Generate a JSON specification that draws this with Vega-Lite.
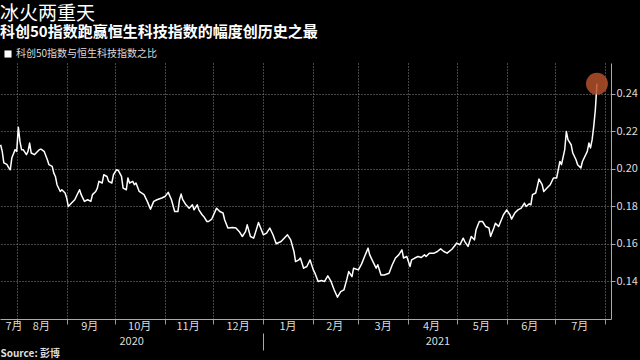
{
  "$schema": "https://vega.github.io/schema/vega-lite/v6.json",
  "width": 611,
  "height": 256,
  "autosize": {"type": "none"},
  "padding": {"left": 0, "top": 63, "right": 29, "bottom": 41},
  "background": "#000000",
  "config": {"view": {"stroke": null}, "font": "Noto Sans CJK SC"},
  "title": {
    "text": "冰火两重天",
    "subtitle": "科创50指数跑赢恒生科技指数的幅度创历史之最",
    "anchor": "start", "frame": "group", "orient": "top", "offset": 9,
    "color": "#ffffff", "fontSize": 19, "fontWeight": "normal", "font": "Noto Sans CJK SC",
    "subtitleColor": "#ffffff", "subtitleFontSize": 15, "subtitleFontWeight": "bold", "subtitleFont": "Noto Sans CJK SC",
    "subtitlePadding": 1
  },
  "resolve": {"axis": {"x": "independent"}},
  "encoding": {
    "y": {
      "field": "ratio", "type": "quantitative",
      "scale": {"domain": [0.12, 0.2565], "nice": false, "zero": false},
      "axis": {
        "orient": "right",
        "values": [0.14, 0.16, 0.18, 0.2, 0.22, 0.24],
        "format": ".2f",
        "grid": true, "gridColor": "#8a8a8a", "gridDash": [1, 2], "gridWidth": 1,
        "tickSize": 4, "tickColor": "#aaaaaa",
        "domainColor": "#aaaaaa",
        "labelColor": "#dddddd", "labelFontSize": 11, "labelPadding": 1,
        "labelOverlap": false, "labelBound": false, "labelFlush": false,
        "title": null
      }
    }
  },
  "layer": [
    {
      "data": {"values": [
        {"date": "2020-07-22", "ratio": 0.2129},
        {"date": "2020-07-23", "ratio": 0.2094},
        {"date": "2020-07-24", "ratio": 0.2033},
        {"date": "2020-07-25", "ratio": 0.2028},
        {"date": "2020-07-26", "ratio": 0.2023},
        {"date": "2020-07-27", "ratio": 0.2007},
        {"date": "2020-07-28", "ratio": 0.1996},
        {"date": "2020-07-29", "ratio": 0.2060},
        {"date": "2020-07-30", "ratio": 0.2081},
        {"date": "2020-07-31", "ratio": 0.2103},
        {"date": "2020-08-01", "ratio": 0.2094},
        {"date": "2020-08-02", "ratio": 0.2223},
        {"date": "2020-08-03", "ratio": 0.2147},
        {"date": "2020-08-04", "ratio": 0.2103},
        {"date": "2020-08-05", "ratio": 0.2103},
        {"date": "2020-08-07", "ratio": 0.2076},
        {"date": "2020-08-08", "ratio": 0.2094},
        {"date": "2020-08-09", "ratio": 0.2138},
        {"date": "2020-08-10", "ratio": 0.2085},
        {"date": "2020-08-12", "ratio": 0.2076},
        {"date": "2020-08-13", "ratio": 0.2085},
        {"date": "2020-08-15", "ratio": 0.2103},
        {"date": "2020-08-16", "ratio": 0.2106},
        {"date": "2020-08-18", "ratio": 0.2094},
        {"date": "2020-08-20", "ratio": 0.2049},
        {"date": "2020-08-21", "ratio": 0.2023},
        {"date": "2020-08-23", "ratio": 0.2014},
        {"date": "2020-08-24", "ratio": 0.1978},
        {"date": "2020-08-25", "ratio": 0.1960},
        {"date": "2020-08-26", "ratio": 0.1916},
        {"date": "2020-08-28", "ratio": 0.1880},
        {"date": "2020-08-29", "ratio": 0.1889},
        {"date": "2020-08-31", "ratio": 0.1872},
        {"date": "2020-09-01", "ratio": 0.1845},
        {"date": "2020-09-02", "ratio": 0.1800},
        {"date": "2020-09-04", "ratio": 0.1818},
        {"date": "2020-09-06", "ratio": 0.1836},
        {"date": "2020-09-08", "ratio": 0.1872},
        {"date": "2020-09-09", "ratio": 0.1889},
        {"date": "2020-09-10", "ratio": 0.1863},
        {"date": "2020-09-12", "ratio": 0.1827},
        {"date": "2020-09-14", "ratio": 0.1836},
        {"date": "2020-09-16", "ratio": 0.1827},
        {"date": "2020-09-17", "ratio": 0.1863},
        {"date": "2020-09-19", "ratio": 0.1880},
        {"date": "2020-09-20", "ratio": 0.1898},
        {"date": "2020-09-21", "ratio": 0.1934},
        {"date": "2020-09-23", "ratio": 0.1925},
        {"date": "2020-09-24", "ratio": 0.1969},
        {"date": "2020-09-26", "ratio": 0.1960},
        {"date": "2020-09-27", "ratio": 0.1934},
        {"date": "2020-09-29", "ratio": 0.1925},
        {"date": "2020-09-30", "ratio": 0.1969},
        {"date": "2020-10-02", "ratio": 0.1996},
        {"date": "2020-10-03", "ratio": 0.1992},
        {"date": "2020-10-05", "ratio": 0.1960},
        {"date": "2020-10-06", "ratio": 0.1898},
        {"date": "2020-10-08", "ratio": 0.1889},
        {"date": "2020-10-09", "ratio": 0.1952},
        {"date": "2020-10-10", "ratio": 0.1925},
        {"date": "2020-10-12", "ratio": 0.1934},
        {"date": "2020-10-13", "ratio": 0.1916},
        {"date": "2020-10-14", "ratio": 0.1925},
        {"date": "2020-10-16", "ratio": 0.1880},
        {"date": "2020-10-19", "ratio": 0.1863},
        {"date": "2020-10-21", "ratio": 0.1827},
        {"date": "2020-10-23", "ratio": 0.1786},
        {"date": "2020-10-25", "ratio": 0.1827},
        {"date": "2020-10-27", "ratio": 0.1836},
        {"date": "2020-10-30", "ratio": 0.1845},
        {"date": "2020-11-01", "ratio": 0.1853},
        {"date": "2020-11-03", "ratio": 0.1875},
        {"date": "2020-11-05", "ratio": 0.1836},
        {"date": "2020-11-07", "ratio": 0.1773},
        {"date": "2020-11-09", "ratio": 0.1773},
        {"date": "2020-11-10", "ratio": 0.1836},
        {"date": "2020-11-11", "ratio": 0.1866},
        {"date": "2020-11-12", "ratio": 0.1836},
        {"date": "2020-11-14", "ratio": 0.1809},
        {"date": "2020-11-16", "ratio": 0.1791},
        {"date": "2020-11-18", "ratio": 0.1809},
        {"date": "2020-11-19", "ratio": 0.1782},
        {"date": "2020-11-21", "ratio": 0.1809},
        {"date": "2020-11-22", "ratio": 0.1782},
        {"date": "2020-11-24", "ratio": 0.1756},
        {"date": "2020-11-25", "ratio": 0.1747},
        {"date": "2020-11-27", "ratio": 0.1720},
        {"date": "2020-11-28", "ratio": 0.1720},
        {"date": "2020-11-30", "ratio": 0.1733},
        {"date": "2020-12-03", "ratio": 0.1791},
        {"date": "2020-12-05", "ratio": 0.1773},
        {"date": "2020-12-07", "ratio": 0.1765},
        {"date": "2020-12-08", "ratio": 0.1729},
        {"date": "2020-12-10", "ratio": 0.1685},
        {"date": "2020-12-13", "ratio": 0.1688},
        {"date": "2020-12-15", "ratio": 0.1685},
        {"date": "2020-12-17", "ratio": 0.1667},
        {"date": "2020-12-19", "ratio": 0.1640},
        {"date": "2020-12-21", "ratio": 0.1667},
        {"date": "2020-12-22", "ratio": 0.1702},
        {"date": "2020-12-24", "ratio": 0.1640},
        {"date": "2020-12-26", "ratio": 0.1631},
        {"date": "2020-12-27", "ratio": 0.1658},
        {"date": "2020-12-29", "ratio": 0.1715},
        {"date": "2021-01-01", "ratio": 0.1649},
        {"date": "2021-01-03", "ratio": 0.1658},
        {"date": "2021-01-05", "ratio": 0.1685},
        {"date": "2021-01-07", "ratio": 0.1649},
        {"date": "2021-01-09", "ratio": 0.1601},
        {"date": "2021-01-12", "ratio": 0.1613},
        {"date": "2021-01-16", "ratio": 0.1649},
        {"date": "2021-01-18", "ratio": 0.1622},
        {"date": "2021-01-20", "ratio": 0.1560},
        {"date": "2021-01-21", "ratio": 0.1506},
        {"date": "2021-01-23", "ratio": 0.1515},
        {"date": "2021-01-24", "ratio": 0.1525},
        {"date": "2021-01-26", "ratio": 0.1471},
        {"date": "2021-01-28", "ratio": 0.1480},
        {"date": "2021-01-30", "ratio": 0.1515},
        {"date": "2021-02-01", "ratio": 0.1462},
        {"date": "2021-02-02", "ratio": 0.1445},
        {"date": "2021-02-04", "ratio": 0.1400},
        {"date": "2021-02-06", "ratio": 0.1405},
        {"date": "2021-02-08", "ratio": 0.1400},
        {"date": "2021-02-10", "ratio": 0.1430},
        {"date": "2021-02-12", "ratio": 0.1400},
        {"date": "2021-02-14", "ratio": 0.1355},
        {"date": "2021-02-16", "ratio": 0.1316},
        {"date": "2021-02-18", "ratio": 0.1346},
        {"date": "2021-02-20", "ratio": 0.1355},
        {"date": "2021-02-22", "ratio": 0.1418},
        {"date": "2021-02-23", "ratio": 0.1453},
        {"date": "2021-02-25", "ratio": 0.1426},
        {"date": "2021-02-26", "ratio": 0.1471},
        {"date": "2021-03-01", "ratio": 0.1462},
        {"date": "2021-03-03", "ratio": 0.1494},
        {"date": "2021-03-05", "ratio": 0.1537},
        {"date": "2021-03-07", "ratio": 0.1578},
        {"date": "2021-03-08", "ratio": 0.1542},
        {"date": "2021-03-10", "ratio": 0.1506},
        {"date": "2021-03-12", "ratio": 0.1471},
        {"date": "2021-03-13", "ratio": 0.1489},
        {"date": "2021-03-15", "ratio": 0.1435},
        {"date": "2021-03-17", "ratio": 0.1435},
        {"date": "2021-03-20", "ratio": 0.1444},
        {"date": "2021-03-22", "ratio": 0.1489},
        {"date": "2021-03-24", "ratio": 0.1525},
        {"date": "2021-03-26", "ratio": 0.1542},
        {"date": "2021-03-28", "ratio": 0.1569},
        {"date": "2021-03-29", "ratio": 0.1525},
        {"date": "2021-03-31", "ratio": 0.1533},
        {"date": "2021-04-02", "ratio": 0.1480},
        {"date": "2021-04-03", "ratio": 0.1515},
        {"date": "2021-04-05", "ratio": 0.1525},
        {"date": "2021-04-07", "ratio": 0.1533},
        {"date": "2021-04-09", "ratio": 0.1528},
        {"date": "2021-04-11", "ratio": 0.1542},
        {"date": "2021-04-12", "ratio": 0.1533},
        {"date": "2021-04-14", "ratio": 0.1551},
        {"date": "2021-04-17", "ratio": 0.1551},
        {"date": "2021-04-19", "ratio": 0.1560},
        {"date": "2021-04-21", "ratio": 0.1574},
        {"date": "2021-04-23", "ratio": 0.1560},
        {"date": "2021-04-25", "ratio": 0.1551},
        {"date": "2021-04-28", "ratio": 0.1572},
        {"date": "2021-04-30", "ratio": 0.1593},
        {"date": "2021-05-01", "ratio": 0.1605},
        {"date": "2021-05-03", "ratio": 0.1596},
        {"date": "2021-05-05", "ratio": 0.1631},
        {"date": "2021-05-06", "ratio": 0.1613},
        {"date": "2021-05-08", "ratio": 0.1587},
        {"date": "2021-05-10", "ratio": 0.1640},
        {"date": "2021-05-12", "ratio": 0.1622},
        {"date": "2021-05-13", "ratio": 0.1676},
        {"date": "2021-05-15", "ratio": 0.1720},
        {"date": "2021-05-17", "ratio": 0.1720},
        {"date": "2021-05-19", "ratio": 0.1693},
        {"date": "2021-05-21", "ratio": 0.1685},
        {"date": "2021-05-22", "ratio": 0.1640},
        {"date": "2021-05-24", "ratio": 0.1685},
        {"date": "2021-05-25", "ratio": 0.1711},
        {"date": "2021-05-27", "ratio": 0.1693},
        {"date": "2021-05-30", "ratio": 0.1756},
        {"date": "2021-06-01", "ratio": 0.1782},
        {"date": "2021-06-03", "ratio": 0.1756},
        {"date": "2021-06-04", "ratio": 0.1733},
        {"date": "2021-06-06", "ratio": 0.1765},
        {"date": "2021-06-08", "ratio": 0.1782},
        {"date": "2021-06-10", "ratio": 0.1791},
        {"date": "2021-06-12", "ratio": 0.1818},
        {"date": "2021-06-13", "ratio": 0.1800},
        {"date": "2021-06-15", "ratio": 0.1814},
        {"date": "2021-06-16", "ratio": 0.1809},
        {"date": "2021-06-17", "ratio": 0.1863},
        {"date": "2021-06-19", "ratio": 0.1872},
        {"date": "2021-06-20", "ratio": 0.1907},
        {"date": "2021-06-21", "ratio": 0.1946},
        {"date": "2021-06-23", "ratio": 0.1916},
        {"date": "2021-06-24", "ratio": 0.1880},
        {"date": "2021-06-26", "ratio": 0.1898},
        {"date": "2021-06-28", "ratio": 0.1916},
        {"date": "2021-06-30", "ratio": 0.1952},
        {"date": "2021-07-02", "ratio": 0.1952},
        {"date": "2021-07-03", "ratio": 0.1996},
        {"date": "2021-07-04", "ratio": 0.2040},
        {"date": "2021-07-05", "ratio": 0.2023},
        {"date": "2021-07-07", "ratio": 0.2103},
        {"date": "2021-07-08", "ratio": 0.2200},
        {"date": "2021-07-09", "ratio": 0.2156},
        {"date": "2021-07-11", "ratio": 0.2129},
        {"date": "2021-07-12", "ratio": 0.2085},
        {"date": "2021-07-14", "ratio": 0.2049},
        {"date": "2021-07-15", "ratio": 0.2023},
        {"date": "2021-07-17", "ratio": 0.2005},
        {"date": "2021-07-18", "ratio": 0.2040},
        {"date": "2021-07-21", "ratio": 0.2094},
        {"date": "2021-07-22", "ratio": 0.2138},
        {"date": "2021-07-23", "ratio": 0.2112},
        {"date": "2021-07-24", "ratio": 0.2156},
        {"date": "2021-07-25", "ratio": 0.2227},
        {"date": "2021-07-26", "ratio": 0.2316},
        {"date": "2021-07-27", "ratio": 0.2455}
      ]},
      "mark": {"type": "line", "strokeWidth": 1.5, "strokeJoin": "round"},
      "encoding": {
        "x": {
          "field": "date", "type": "temporal",
          "scale": {"type": "utc", "domain": [
            {"year": 2020, "month": 7, "date": 21, "hours": 15, "utc": true},
            {"year": 2021, "month": 8, "date": 4, "hours": 17, "utc": true}
          ]},
          "axis": {
            "orient": "bottom",
            "values": [
              {"year": 2020, "month": 8, "date": 1, "utc": true},
              {"year": 2020, "month": 9, "date": 1, "utc": true},
              {"year": 2020, "month": 10, "date": 1, "utc": true},
              {"year": 2020, "month": 11, "date": 1, "utc": true},
              {"year": 2020, "month": 12, "date": 1, "utc": true},
              {"year": 2021, "month": 1, "date": 1, "utc": true},
              {"year": 2021, "month": 2, "date": 1, "utc": true},
              {"year": 2021, "month": 3, "date": 1, "utc": true},
              {"year": 2021, "month": 4, "date": 1, "utc": true},
              {"year": 2021, "month": 5, "date": 1, "utc": true},
              {"year": 2021, "month": 6, "date": 1, "utc": true},
              {"year": 2021, "month": 7, "date": 1, "utc": true},
              {"year": 2021, "month": 8, "date": 1, "utc": true}
            ],
            "labels": false,
            "grid": true, "gridColor": "#8a8a8a", "gridDash": [1, 2], "gridWidth": 1,
            "ticks": true, "tickColor": "#999999", "tickSize": 5,
            "domainColor": "#aaaaaa",
            "title": null
          }
        },
        "color": {
          "datum": "科创50指数与恒生科技指数之比", "type": "nominal",
          "scale": {"range": ["#ffffff"]},
          "legend": {
            "orient": "none", "legendX": 3, "legendY": -14, "title": null,
            "symbolType": "square", "symbolSize": 50,
            "symbolFillColor": "#ffffff", "symbolStrokeColor": "#ffffff", "symbolStrokeWidth": 0,
            "labelColor": "#dddddd", "labelFontSize": 10, "labelFont": "Noto Sans CJK SC",
            "labelOffset": 3, "padding": 0
          }
        }
      }
    },
    {
      "data": {"values": [{"date": "2021-07-27", "ratio": 0.2455}]},
      "mark": {"type": "circle", "size": 480, "color": "#b4502a", "opacity": 0.85},
      "encoding": {
        "x": {
          "field": "date", "type": "temporal",
          "scale": {"type": "utc"},
          "axis": {
            "orient": "bottom", "offset": 14,
            "values": [
              {"year": 2020, "month": 7, "date": 30, "utc": true},
              {"year": 2020, "month": 8, "date": 16, "utc": true},
              {"year": 2020, "month": 9, "date": 15, "utc": true},
              {"year": 2020, "month": 10, "date": 11, "utc": true},
              {"year": 2020, "month": 10, "date": 16, "utc": true},
              {"year": 2020, "month": 11, "date": 15, "utc": true},
              {"year": 2020, "month": 12, "date": 16, "utc": true},
              {"year": 2021, "month": 1, "date": 1, "utc": true},
              {"year": 2021, "month": 1, "date": 16, "utc": true},
              {"year": 2021, "month": 2, "date": 14, "utc": true},
              {"year": 2021, "month": 3, "date": 16, "utc": true},
              {"year": 2021, "month": 4, "date": 15, "utc": true},
              {"year": 2021, "month": 4, "date": 19, "utc": true},
              {"year": 2021, "month": 5, "date": 16, "utc": true},
              {"year": 2021, "month": 6, "date": 15, "utc": true},
              {"year": 2021, "month": 7, "date": 16, "utc": true}
            ],
            "labelExpr": "utcdate(datum.value) == 1 ? '' : (utcdate(datum.value) == 11 || utcdate(datum.value) == 19) ? ['', '' + utcyear(datum.value)] : (utcmonth(datum.value) + 1) + '月'",
            "grid": false, "domain": false,
            "ticks": true, "tickSize": 17, "tickColor": "#aaaaaa",
            "tickOpacity": {"condition": {"test": "utcdate(datum.value) == 1", "value": 1}, "value": 0},
            "labelPadding": -30, "labelBaseline": "top", "labelLineHeight": 15,
            "labelColor": "#dddddd", "labelFontSize": 11,
            "labelFlush": false, "labelOverlap": false, "labelBound": false,
            "title": "Source: 彭博", "titleX": 0, "titleY": 20, "titleAlign": "left", "titleBaseline": "middle",
            "titleFontSize": 10, "titleFontWeight": "bold", "titleColor": "#dddddd", "titleFont": "Noto Sans CJK SC"
          }
        }
      }
    }
  ]
}
